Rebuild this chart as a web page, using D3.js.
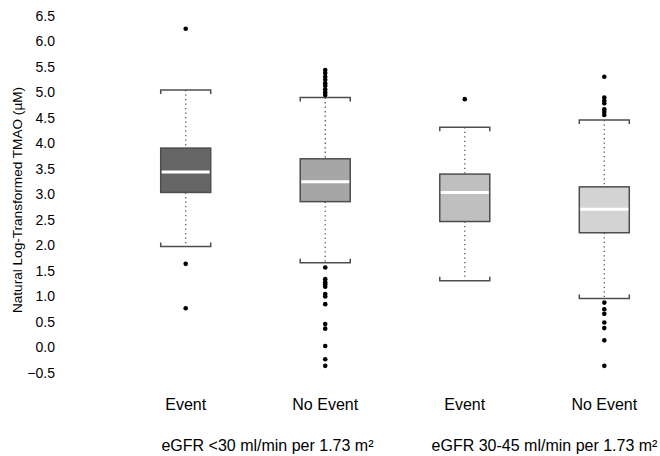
<!DOCTYPE html>
<html>
<head>
<meta charset="utf-8">
<script src="https://cdn.jsdelivr.net/npm/d3@7"></script>
<style>
  html, body { margin: 0; padding: 0; background: #fff; }
  text { font-family: "Liberation Sans", Arial, sans-serif; fill: #000; }
</style>
</head>
<body>
<svg id="chart" width="660" height="456"></svg>
<script>
// ---- Data ----
const categories = ["Event", "No Event", "Event", "No Event"];
const groupLabels = ["eGFR <30 ml/min per 1.73 m²", "eGFR 30-45 ml/min per 1.73 m²"];
const whiskerLow  = [1.98, 1.66, 1.31, 0.96];
const q1          = [3.04, 2.86, 2.47, 2.25];
const median      = [3.44, 3.25, 3.04, 2.71];
const q3          = [3.91, 3.70, 3.40, 3.15];
const whiskerHigh = [5.05, 4.90, 4.32, 4.46];
const outliers = [
  [6.25, 1.64, 0.77],
  [5.44, 5.38, 5.31, 5.25, 5.18, 5.13, 5.06, 5.00, 4.95,
   1.57, 1.34, 1.28, 1.24, 1.19, 1.05, 1.00, 0.85, 0.46, 0.37, 0.03, -0.23, -0.36],
  [4.87],
  [5.31, 4.90, 4.84, 4.79, 4.67, 4.62, 4.56,
   0.88, 0.75, 0.66, 0.49, 0.38, 0.14, -0.36]
];
const boxFills = ["#666666", "#a6a6a6", "#bfbfbf", "#d3d3d3"];
const yTicks = [-0.5, 0, 0.5, 1, 1.5, 2, 2.5, 3, 3.5, 4, 4.5, 5, 5.5, 6, 6.5];
const yTitle = "Natural Log-Transformed TMAO (µM)";

// ---- Scales ----
const svg = d3.select("#chart");
const keys = categories.map((c, i) => i);
const x = d3.scalePoint().domain(keys).range([185.7, 604.3]);
const y = d3.scaleLinear().domain([-0.5, 6.5]).range([373, 16]);
const boxW = 50;

// ---- Y axis (labels only) ----
const yAxis = d3.axisLeft(y).tickValues(yTicks).tickFormat(d3.format(".1f")).tickSize(0).tickPadding(0);
const gy = svg.append("g").attr("transform", "translate(55,0)").call(yAxis);
gy.select(".domain").remove();
gy.selectAll("text").style("font-size", "14px").attr("font-family", "Liberation Sans, Arial, sans-serif").attr("fill", "#000");

svg.append("text")
  .attr("transform", "translate(22,200) rotate(-90)")
  .attr("text-anchor", "middle")
  .style("font-size", "13.6px")
  .text(yTitle);

// ---- Boxes ----
const data = keys.map(i => ({
  i, lo: whiskerLow[i], q1: q1[i], med: median[i], q3: q3[i], hi: whiskerHigh[i], out: outliers[i], fill: boxFills[i]
}));

const g = svg.selectAll("g.box").data(data).enter().append("g").attr("class", "box");

// dotted whiskers
g.append("line")
  .attr("x1", d => x(d.i)).attr("x2", d => x(d.i))
  .attr("y1", d => y(d.hi)).attr("y2", d => y(d.q3))
  .attr("stroke", "#555").attr("stroke-width", 1.3).attr("stroke-dasharray", "1.3,3.2");
g.append("line")
  .attr("x1", d => x(d.i)).attr("x2", d => x(d.i))
  .attr("y1", d => y(d.q1)).attr("y2", d => y(d.lo))
  .attr("stroke", "#555").attr("stroke-width", 1.3).attr("stroke-dasharray", "1.3,3.2");

// caps (brackets)
g.append("path")
  .attr("d", d => {
    const l = x(d.i) - boxW / 2, r = x(d.i) + boxW / 2, yy = y(d.hi);
    return `M${l},${yy + 4}V${yy}H${r}V${yy + 4}`;
  })
  .attr("fill", "none").attr("stroke", "#4d4d4d").attr("stroke-width", 1.5);
g.append("path")
  .attr("d", d => {
    const l = x(d.i) - boxW / 2, r = x(d.i) + boxW / 2, yy = y(d.lo);
    return `M${l},${yy - 4}V${yy}H${r}V${yy - 4}`;
  })
  .attr("fill", "none").attr("stroke", "#4d4d4d").attr("stroke-width", 1.5);

// box
g.append("rect")
  .attr("x", d => x(d.i) - boxW / 2)
  .attr("y", d => y(d.q3))
  .attr("width", boxW)
  .attr("height", d => y(d.q1) - y(d.q3))
  .attr("fill", d => d.fill)
  .attr("stroke", "#4d4d4d").attr("stroke-width", 1.5);

// median
g.append("line")
  .attr("x1", d => x(d.i) - boxW / 2 + 1).attr("x2", d => x(d.i) + boxW / 2 - 1)
  .attr("y1", d => y(d.med)).attr("y2", d => y(d.med))
  .attr("stroke", "#fff").attr("stroke-width", 3);

// outliers
g.selectAll("circle").data(d => d.out.map(v => ({ i: d.i, v })))
  .enter().append("circle")
  .attr("cx", d => x(d.i)).attr("cy", d => y(d.v)).attr("r", 2.3)
  .attr("fill", "#000");

// ---- X labels ----
svg.selectAll("text.cat").data(keys).enter().append("text")
  .attr("class", "cat")
  .attr("x", i => x(i)).attr("y", 410)
  .attr("text-anchor", "middle")
  .style("font-size", "16px")
  .text(i => categories[i]);

svg.selectAll("text.grp").data(groupLabels).enter().append("text")
  .attr("class", "grp")
  .attr("x", (d, gi) => (x(gi * 2) + x(gi * 2 + 1)) / 2 + (gi === 0 ? 12 : 10))
  .attr("y", 451)
  .attr("text-anchor", "middle")
  .style("font-size", "16px")
  .text(d => d);
</script>
</body>
</html>
